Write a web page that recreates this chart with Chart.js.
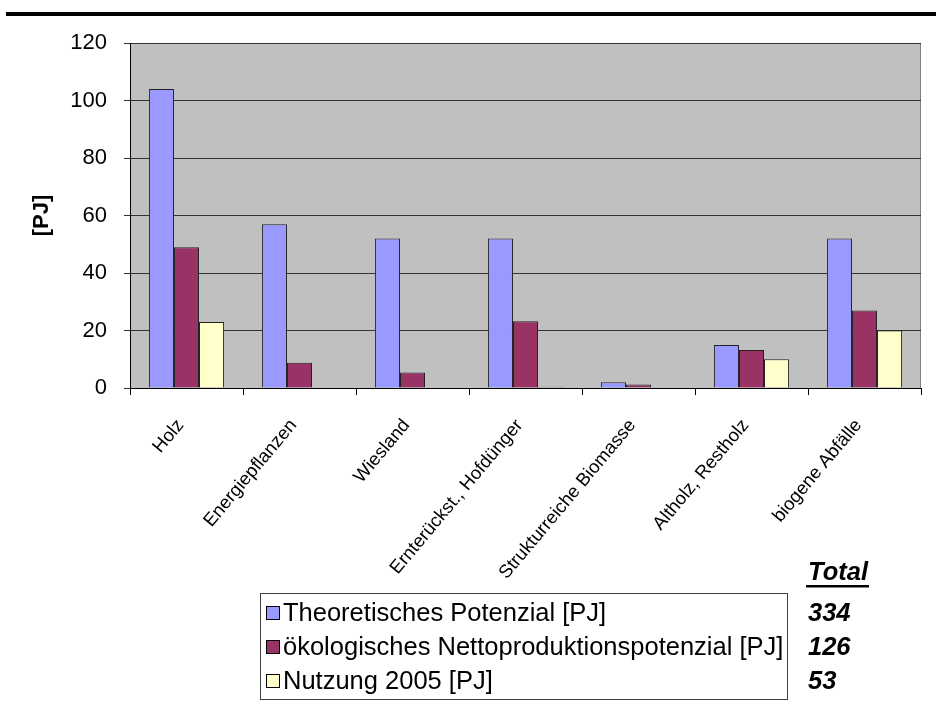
<!DOCTYPE html>
<html>
<head>
<meta charset="utf-8">
<script src="https://cdn.jsdelivr.net/npm/chart.js@4/dist/chart.umd.min.js"></script>
<style>
  html, body { margin: 0; padding: 0; background: #fff; }
  #wrap { position: relative; width: 936px; height: 716px; }
</style>
</head>
<body>
<div id="wrap"><canvas id="c" width="936" height="716"></canvas></div>
<script>
// Biomass energy potentials by source (PJ)
const categories = ['Holz', 'Energiepflanzen', 'Wiesland', 'Ernterückst., Hofdünger',
                    'Strukturreiche Biomasse', 'Altholz, Restholz', 'biogene Abfälle'];
const theoretischesPotenzial = [104, 57, 52, 52, 2, 15, 52];
const oekologischesPotenzial = [49, 8.8, 5.4, 23.2, 1.2, 13.2, 27];
const nutzung2005 = [23, 0, 0, 0.4, 0, 10, 20];
const seriesNames = ['Theoretisches Potenzial [PJ]',
                     'ökologisches Nettoproduktionspotenzial [PJ]',
                     'Nutzung 2005 [PJ]'];
const totalsTitle = 'Total';
const totals = ['334', '126', '53'];
const yAxisTitle = '[PJ]';
const yMin = 0, yMax = 120, yStep = 20;

const FONT = 'Arial, "Liberation Sans", sans-serif';

// Grey plot background, top rule, axis title, boxed legend and totals column
const decorations = {
  id: 'decorations',
  beforeDraw(chart) {
    const { ctx, chartArea: a } = chart;
    ctx.save();
    ctx.fillStyle = '#c0c0c0';
    ctx.fillRect(a.left, a.top, a.right - a.left, a.bottom - a.top);
    ctx.strokeStyle = '#808080';
    ctx.lineWidth = 1;
    ctx.beginPath();
    ctx.moveTo(a.left, a.top + 0.5);
    ctx.lineTo(a.right - 0.5, a.top + 0.5);
    ctx.lineTo(a.right - 0.5, a.bottom);
    ctx.stroke();
    ctx.restore();
  },
  afterDraw(chart) {
    const { ctx, chartArea: a } = chart;
    ctx.save();
    // heavy rule across the top of the page
    ctx.fillStyle = '#000';
    ctx.fillRect(6, 12, 930, 4);

    // y axis title
    ctx.translate(42, (a.top + a.bottom) / 2);
    ctx.rotate(-Math.PI / 2);
    ctx.font = 'bold 22px ' + FONT;
    ctx.textAlign = 'center';
    ctx.textBaseline = 'middle';
    ctx.fillText(yAxisTitle, 0, 0);
    ctx.setTransform(1, 0, 0, 1, 0, 0);

    // legend box
    const box = { x: 260.5, y: 593.5, w: 527, h: 106 };
    ctx.strokeStyle = '#404040';
    ctx.lineWidth = 1;
    ctx.strokeRect(box.x, box.y, box.w, box.h);
    const rowY = [613, 647, 681];
    ctx.font = '25.5px ' + FONT;
    ctx.textAlign = 'left';
    ctx.textBaseline = 'middle';
    chart.data.datasets.forEach((ds, i) => {
      ctx.fillStyle = ds.backgroundColor;
      ctx.fillRect(266, rowY[i] - 7, 14, 14);
      ctx.strokeStyle = '#000';
      ctx.strokeRect(266.5, rowY[i] - 6.5, 13, 13);
      ctx.fillStyle = '#000';
      ctx.fillText(ds.label, 283, rowY[i] + 1);
    });

    // totals column
    ctx.font = 'italic bold 25.5px ' + FONT;
    ctx.fillText(totalsTitle, 808, 573);
    const tw = ctx.measureText(totalsTitle).width;
    ctx.fillRect(806, 585, tw + 3, 2.5);
    totals.forEach((t, i) => ctx.fillText(t, 808, rowY[i] + 1));
    ctx.restore();
  }
};

new Chart(document.getElementById('c'), {
  type: 'bar',
  data: {
    labels: categories,
    datasets: [
      { label: seriesNames[0], data: theoretischesPotenzial, backgroundColor: '#9999ff' },
      { label: seriesNames[1], data: oekologischesPotenzial, backgroundColor: '#993366' },
      { label: seriesNames[2], data: nutzung2005, backgroundColor: '#ffffcc' }
    ].map(d => Object.assign(d, { borderColor: '#222', borderWidth: 1,
                                  categoryPercentage: 0.665, barPercentage: 1 }))
  },
  options: {
    responsive: false,
    animation: false,
    layout: { padding: { top: 43, right: 15, left: 0, bottom: 0 } },
    plugins: { legend: { display: false }, tooltip: { enabled: false } },
    scales: {
      x: {
        afterFit(scale) { scale.height = 716 - 388; },
        grid: { offset: true, drawOnChartArea: false, drawTicks: true, tickLength: 7,
                color: '#000' },
        border: { color: '#000', width: 1 },
        ticks: { color: '#000', font: { family: FONT, size: 18.5 },
                 minRotation: 50, maxRotation: 50, autoSkip: false,
                 padding: 20, labelOffset: -6 }
      },
      y: {
        min: yMin, max: yMax,
        afterFit(scale) { scale.width = 130; },
        grid: { color: '#333', tickLength: 6, drawTicks: true },
        border: { color: '#000', width: 1 },
        ticks: { stepSize: yStep, color: '#000', font: { family: FONT, size: 22 }, padding: 17 }
      }
    }
  },
  plugins: [decorations]
});
</script>
</body>
</html>
